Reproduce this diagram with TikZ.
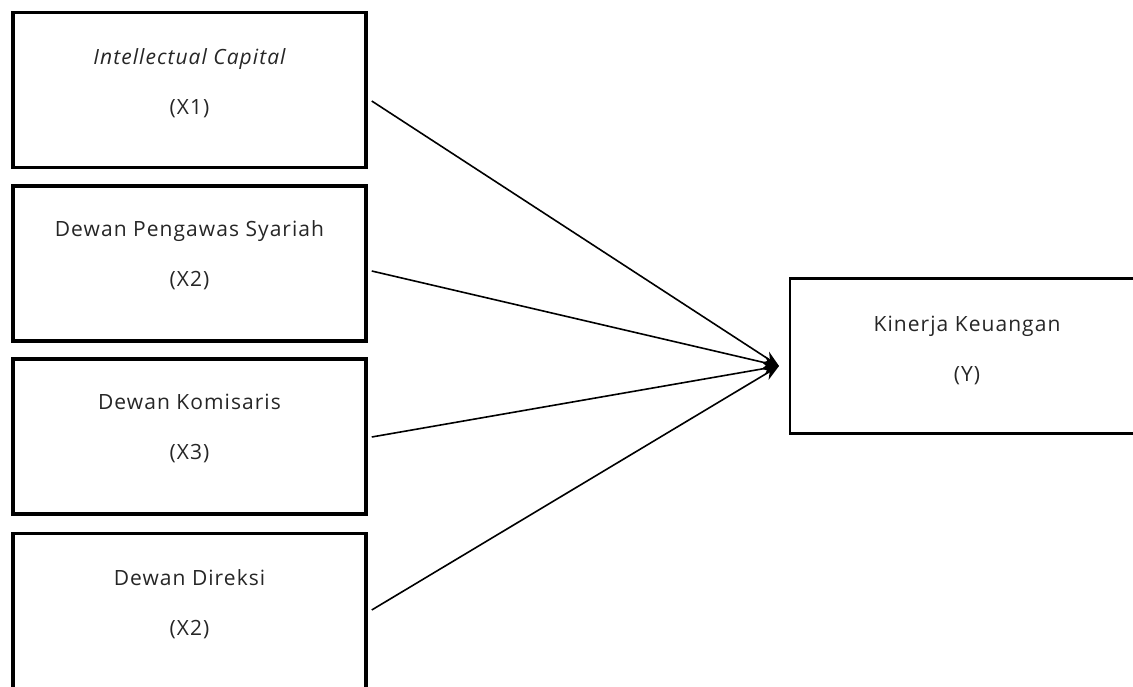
\documentclass[tikz,border=0pt]{standalone}
\usepackage{fontspec}
\setmainfont{Open Sans}[LetterSpace=5]
\usetikzlibrary{arrows.meta,calc}
\begin{document}
\begin{tikzpicture}[x=1pt,y=-1pt,
  lbox/.style={draw=black,line width=3.5pt,minimum width=353pt,minimum height=155pt,inner sep=0pt,fill=white},
  rbox/.style={draw=black,line width=2.6pt,minimum width=360pt,minimum height=155.5pt,inner sep=0pt,fill=white},
  txt/.style={align=center,font=\fontsize{21}{50}\selectfont,text=black!85,inner sep=0pt},
  conn/.style={line width=1.6pt,-{Stealth[length=16pt,width=13pt]}}]
\clip (0,0) rectangle (1133,687);
\fill[white] (0,0) rectangle (1133,687);
\node[lbox] (x1) at (189.5,90) {};
\node[lbox] (x2) at (189.5,263.5) {};
\node[lbox] (x3) at (189.5,436.5) {};
\node[lbox] (x4) at (189.5,611) {};
\node[rbox] (y) at (970,356) {};
\node[txt] (t1) at (189.5,83) {\itshape Intellectual Capital\\(X1)};
\node[txt] (t2) at (189.5,255) {Dewan Pengawas Syariah\\(X2)};
\node[txt] (t3) at (189.5,428) {Dewan Komisaris\\(X3)};
\node[txt] (t4) at (189.5,604) {Dewan Direksi\\(X2)};
\node[txt] (ty) at (967,350) {Kinerja Keuangan\\(Y)};
\coordinate (tip) at (779,366);
\draw[conn] ([xshift=4pt,yshift=-11pt]x1.east) -- (tip);
\draw[conn] ([xshift=4pt,yshift=-7.5pt]x2.east) -- (tip);
\draw[conn] ([xshift=4pt,yshift=-0.5pt]x3.east) -- (tip);
\draw[conn] ([xshift=4pt,yshift=1pt]x4.east) -- (tip);
\end{tikzpicture}
\end{document}
